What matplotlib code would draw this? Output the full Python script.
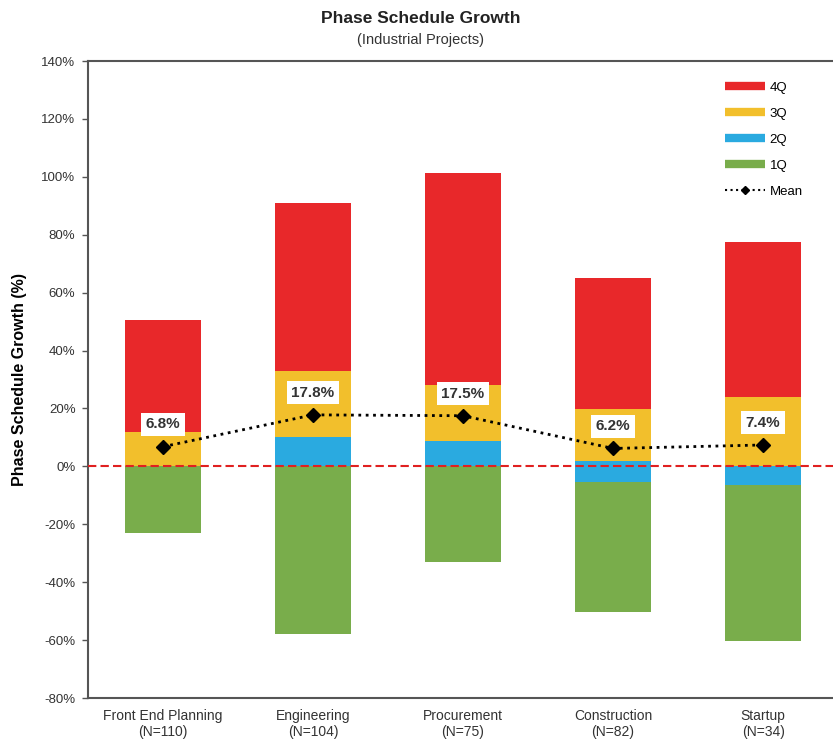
import matplotlib.pyplot as plt
from matplotlib.lines import Line2D

plt.rcParams['font.family'] = ['Liberation Sans', 'DejaVu Sans']

# Quartile bounds of phase schedule growth (%)
phases = ["Front End Planning\n(N=110)", "Engineering\n(N=104)", "Procurement\n(N=75)",
          "Construction\n(N=82)", "Startup\n(N=34)"]
minimum = [-23.0, -58.0, -33.0, -50.2, -60.2]
q1 = [0.0, 0.0, 0.0, -5.5, -6.4]
median = [0.0, 10.0, 8.8, 2.0, 0.0]
q3 = [12.0, 33.1, 28.2, 19.8, 24.1]
maximum = [50.5, 91.1, 101.5, 65.1, 77.5]
mean = [6.8, 17.8, 17.5, 6.2, 7.4]

c_4q = "#E8282A"
c_3q = "#F2BF2C"
c_2q = "#2AAAE0"
c_1q = "#79AD4B"

fig = plt.figure(figsize=(8.33, 7.48), dpi=100)
ax = fig.add_axes([0.1056, 0.0668, 0.9005, 0.8516])

x = list(range(len(phases)))
w = 0.51
segments = [(minimum, q1, c_1q), (q1, median, c_2q), (median, q3, c_3q), (q3, maximum, c_4q)]
for lo, hi, col in segments:
    ax.bar(x, [h - l for l, h in zip(lo, hi)], bottom=lo, width=w, color=col, zorder=2)

ax.axhline(0, color="#E02020", linestyle=(0, (4, 2)), linewidth=1.5, zorder=3)

ax.plot(x, mean, color="black", linestyle=":", linewidth=2, marker="D", markersize=7, zorder=4)
for xi, m in zip(x, mean):
    ax.annotate(f"{m:.1f}%", (xi, m), xytext=(0, 16), textcoords="offset points",
                ha="center", va="center", fontsize=11, fontweight="bold", color="#333333",
                bbox=dict(boxstyle="square,pad=0.3", fc="white", ec="none"), zorder=5)

ax.set_xlim(-0.5, 4.5)
ax.set_ylim(-80, 140)
ax.set_yticks(range(-80, 141, 20))
ax.set_yticklabels([f"{v}%" for v in range(-80, 141, 20)], fontsize=9.5, color="#333333")
ax.set_xticks(x)
ax.set_xticklabels(phases, fontsize=10, color="#333333")
ax.tick_params(axis="x", length=0, pad=8)
ax.tick_params(axis="y", length=4, width=1, color="#555555", pad=5)
for s in ["left", "bottom", "top", "right"]:
    ax.spines[s].set_color("#555555")
    ax.spines[s].set_linewidth(1.5)

ax.set_ylabel("Phase Schedule Growth (%)", fontsize=11.5, fontweight="bold", labelpad=10)
fig.text(0.505, 0.975, "Phase Schedule Growth", ha="center", va="center",
         fontsize=12.5, fontweight="bold", color="#222222")
fig.text(0.505, 0.946, "(Industrial Projects)", ha="center", va="center",
         fontsize=10.5, color="#333333")

handles = [Line2D([], [], color=c_4q, lw=6, solid_capstyle="butt"),
           Line2D([], [], color=c_3q, lw=6, solid_capstyle="butt"),
           Line2D([], [], color=c_2q, lw=6, solid_capstyle="butt"),
           Line2D([], [], color=c_1q, lw=6, solid_capstyle="butt"),
           Line2D([], [], color="black", ls=":", lw=1.5, marker="D", markersize=4)]
fig.legend(handles, ["4Q", "3Q", "2Q", "1Q", "Mean"], loc="upper left",
           bbox_to_anchor=(0.856, 0.907), frameon=False, fontsize=9.5,
           handlelength=3, handletextpad=0.4, labelspacing=1.05)

fig.savefig("out.png", dpi=100)
